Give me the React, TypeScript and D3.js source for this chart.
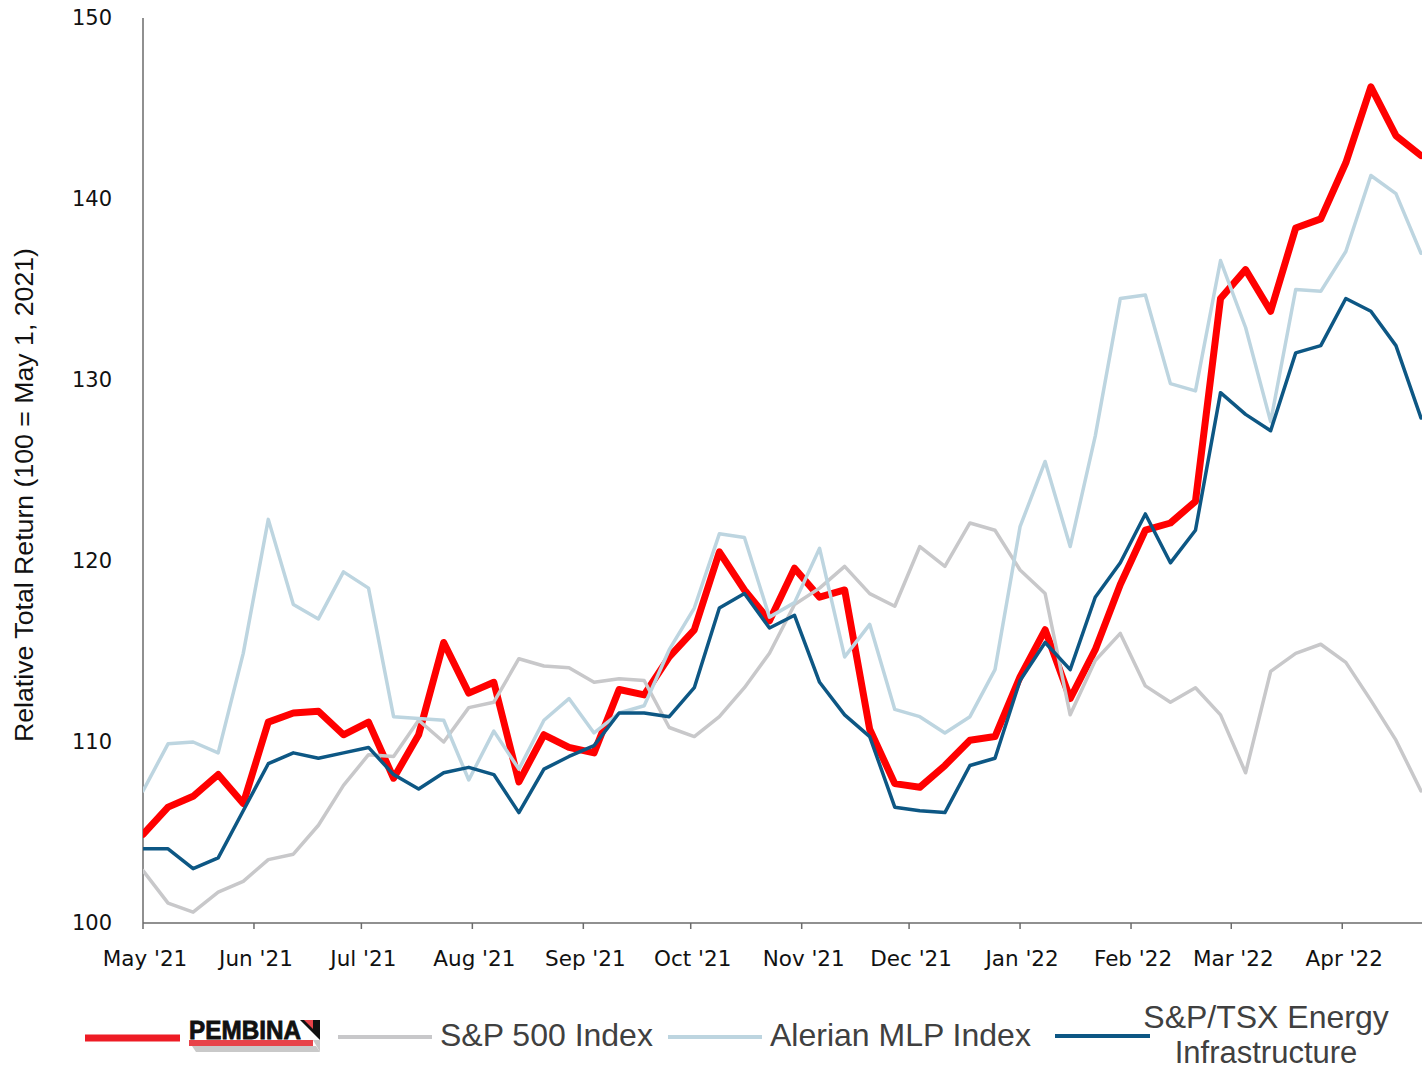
import React from 'react';
import * as d3 from 'd3';

// weekly observations, first week = May 1, 2021 (100 = May 1, 2021)
const weeks = 52;
const startDate = new Date(2021, 4, 1);

const pembina = [
  104.9, 106.4, 107.0, 108.2, 106.6, 111.1, 111.6, 111.7, 110.4, 111.1,
  108.0, 110.4, 115.5, 112.7, 113.3, 107.8, 110.4, 109.7, 109.4, 112.9,
  112.6, 114.7, 116.2, 120.5, 118.4, 116.7, 119.6, 118.0, 118.4, 110.7,
  107.7, 107.5, 108.7, 110.1, 110.3, 113.6, 116.2, 112.4, 115.1, 118.7,
  121.7, 122.1, 123.3, 134.5, 136.1, 133.8, 138.4, 138.9, 142.0, 146.2,
  143.5, 142.4,
];

const sp500 = [
  102.9, 101.1, 100.6, 101.7, 102.3, 103.5, 103.8, 105.4, 107.6, 109.3,
  109.2, 111.2, 110.0, 111.9, 112.2, 114.6, 114.2, 114.1, 113.3, 113.5,
  113.4, 110.8, 110.3, 111.4, 113.0, 114.9, 117.6, 118.5, 119.7, 118.2,
  117.5, 120.8, 119.7, 122.1, 121.7, 119.5, 118.2, 111.5, 114.5, 116.0,
  113.1, 112.2, 113.0, 111.5, 108.3, 113.9, 114.9, 115.4, 114.4, 112.3,
  110.1, 107.3,
];

const alerian = [
  107.3, 109.9, 110.0, 109.4, 114.9, 122.3, 117.6, 116.8, 119.4, 118.5,
  111.4, 111.3, 111.2, 107.9, 110.6, 108.5, 111.2, 112.4, 110.5, 111.6,
  112.0, 115.1, 117.4, 121.5, 121.3, 116.9, 117.7, 120.7, 114.7, 116.5,
  111.8, 111.4, 110.5, 111.4, 114.0, 121.9, 125.5, 120.8, 126.9, 134.5,
  134.7, 129.8, 129.4, 136.6, 132.9, 127.7, 135.0, 134.9, 137.1, 141.3,
  140.3, 137.0,
];

const tsxEnergy = [
  104.1, 104.1, 103.0, 103.6, 106.2, 108.8, 109.4, 109.1, 109.4, 109.7,
  108.2, 107.4, 108.3, 108.6, 108.2, 106.1, 108.5, 109.2, 109.8, 111.6,
  111.6, 111.4, 113.0, 117.4, 118.2, 116.3, 117.0, 113.3, 111.5, 110.3,
  106.4, 106.2, 106.1, 108.7, 109.1, 113.4, 115.5, 114.0, 118.0, 119.9,
  122.6, 119.9, 121.7, 129.3, 128.1, 127.2, 131.5, 131.9, 134.5, 133.8,
  131.9, 127.9,
];

const monthLabels = [
  "May '21", "Jun '21", "Jul '21", "Aug '21", "Sep '21", "Oct '21",
  "Nov '21", "Dec '21", "Jan '22", "Feb '22", "Mar '22", "Apr '22",
];
const yTicks = [100, 110, 120, 130, 140, 150];

const seriesNames = ['Pembina', 'S&P 500 Index', 'Alerian MLP Index', 'S&P/TSX Energy Infrastructure'];

export default function App() {
  const width = 1422, height = 1070;
  const margin = { top: 18, left: 143, bottom: 147 };
  const plotBottom = height - margin.bottom;

  const dates = d3.range(weeks).map((i) => d3.timeDay.offset(startDate, 7 * i));
  const x = d3.scaleTime()
    .domain([startDate, dates[weeks - 1]])
    .range([margin.left, 1421]);
  const y = d3.scaleLinear().domain([100, 150]).range([plotBottom, margin.top]);

  const monthTicks = d3.timeMonth.range(startDate, d3.timeMonth.offset(startDate, monthLabels.length));

  const line = d3.line<number>()
    .x((d, i) => x(dates[i]))
    .y((d) => y(d));

  // drawing order: Pembina first, TSX last (on top)
  const series = [
    { name: seriesNames[0], values: pembina, color: '#ff0000', w: 7 },
    { name: seriesNames[1], values: sp500, color: '#c8c8ca', w: 3.5 },
    { name: seriesNames[2], values: alerian, color: '#bdd5e0', w: 3.5 },
    { name: seriesNames[3], values: tsxEnergy, color: '#0d5784', w: 3.5 },
  ];

  const tickFont = 'Verdana, "DejaVu Sans", sans-serif';
  const legendFont = '"Liberation Sans", Arial, sans-serif';

  return (
    <svg width={width} height={height} style={{ position: 'absolute', left: 0, top: 0, background: '#fff' }}>
      <defs>
        <clipPath id="plot">
          <rect x={margin.left} y={0} width={width - margin.left} height={plotBottom + 2} />
        </clipPath>
      </defs>

      {/* y axis */}
      <line x1={margin.left} x2={margin.left} y1={margin.top} y2={plotBottom} stroke="#6b6b6b" strokeWidth={1.5} />
      {yTicks.map((t) => (
        <text key={t} x={112} y={y(t)} textAnchor="end" dominantBaseline="central"
          fontFamily={tickFont} fontSize={21} fill="#111">{t}</text>
      ))}
      <text transform={`translate(33,${495}) rotate(-90)`} textAnchor="middle"
        fontFamily='"Liberation Sans Narrow", "Arial Narrow", sans-serif' fontSize={25}
        textLength={494} lengthAdjust="spacingAndGlyphs" fill="#111">
        Relative Total Return (100 = May 1, 2021)
      </text>

      {/* x axis */}
      <line x1={margin.left} x2={width} y1={plotBottom} y2={plotBottom} stroke="#6b6b6b" strokeWidth={1.5} />
      {monthTicks.map((d, i) => (
        <g key={i}>
          <line x1={x(d)} x2={x(d)} y1={plotBottom} y2={plotBottom + 6} stroke="#6b6b6b" strokeWidth={1.5} />
          <text x={x(d) + 2} y={958} textAnchor="middle" dominantBaseline="central"
            fontFamily={tickFont} fontSize={21.5} fill="#111">{monthLabels[i]}</text>
        </g>
      ))}

      {/* lines */}
      <g clipPath="url(#plot)">
        {series.map((s) => (
          <path key={s.name} d={line(s.values) || ''} fill="none" stroke={s.color}
            strokeWidth={s.w} strokeLinejoin="round" strokeLinecap="round" />
        ))}
      </g>

      {/* legend */}
      <g>
        <line x1={85} x2={180} y1={1038} y2={1038} stroke="#ee1c25" strokeWidth={7} />
        {/* Pembina logo */}
        <g>
          <polygon points="192,1046 316,1046 320,1052 196,1052" fill="#c9c9c9" />
          <rect x={189} y={1040} width={124} height={6} fill="#e8434a" />
          <text x={189} y={1039} fontFamily='"Liberation Sans", Arial, sans-serif'
            fontWeight="bold" fontSize={26} textLength={112} lengthAdjust="spacingAndGlyphs"
            fill="#111" stroke="#111" strokeWidth={0.8}>PEMBINA</text>
          <polygon points="300,1020 320,1020 320,1040" fill="#111" />
          <polygon points="304,1020 313,1020 313,1029" fill="#e8434a" />
          <polygon points="313,1040 320,1040 320,1052" fill="#c9c9c9" />
        </g>

        <line x1={338} x2={432} y1={1037} y2={1037} stroke="#c8c8ca" strokeWidth={4} />
        <text x={440} y={1046} fontFamily={legendFont} fontSize={32} fill="#404040">{seriesNames[1]}</text>

        <line x1={668} x2={762} y1={1037} y2={1037} stroke="#bdd5e0" strokeWidth={4} />
        <text x={770} y={1046} fontFamily={legendFont} fontSize={32} fill="#404040">{seriesNames[2]}</text>

        <line x1={1055} x2={1150} y1={1036} y2={1036} stroke="#0d5784" strokeWidth={4} />
        <text x={1266} y={1028} textAnchor="middle" fontFamily={legendFont} fontSize={32} fill="#404040">S&amp;P/TSX Energy</text>
        <text x={1266} y={1063} textAnchor="middle" fontFamily={legendFont} fontSize={31} fill="#404040">Infrastructure</text>
      </g>
    </svg>
  );
}
